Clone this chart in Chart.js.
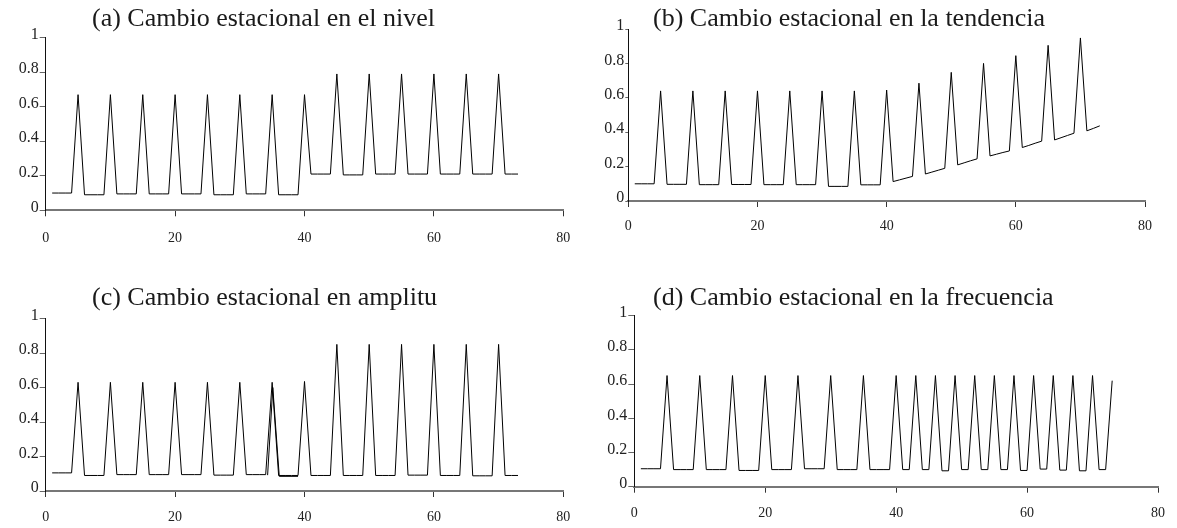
<!DOCTYPE html>
<html>
<head>
<meta charset="utf-8">
<script src="https://cdn.jsdelivr.net/npm/chart.js@4/dist/chart.umd.min.js"></script>
<style>
  body { margin: 0; background: #fff; }
  #page { position: relative; width: 1177px; height: 528px; overflow: hidden; }
  .panel { position: absolute; }
  .titulo {
    position: absolute;
    font-family: "Liberation Serif", serif;
    font-size: 26px;
    line-height: 26px;
    color: #1a1a1a;
    white-space: nowrap;
  }
</style>
</head>
<body>
<div id="page">
  <canvas id="nivel" class="panel" width="590" height="255" style="left:0;top:0"></canvas>
  <canvas id="tendencia" class="panel" width="587" height="255" style="left:590px;top:0"></canvas>
  <canvas id="amplitud" class="panel" width="590" height="268" style="left:0;top:260px"></canvas>
  <canvas id="frecuencia" class="panel" width="587" height="268" style="left:590px;top:260px"></canvas>
  <div class="titulo" style="left:92px;top:5px">(a) Cambio estacional en el nivel</div>
  <div class="titulo" style="left:653px;top:5px">(b) Cambio estacional en la tendencia</div>
  <div class="titulo" style="left:92px;top:284px">(c) Cambio estacional en amplitu</div>
  <div class="titulo" style="left:653px;top:284px">(d) Cambio estacional en la frecuencia</div>
</div>
<script>
// eje temporal comun a las cuatro series
const tiempo = [
  1, 2, 3, 4, 5, 6, 7, 8, 9, 10, 11, 12, 13, 14, 15, 16, 17, 18, 19, 20,
  21, 22, 23, 24, 25, 26, 27, 28, 29, 30, 31, 32, 33, 34, 35, 36, 37, 38, 39, 40,
  41, 42, 43, 44, 45, 46, 47, 48, 49, 50, 51, 52, 53, 54, 55, 56, 57, 58, 59, 60,
  61, 62, 63, 64, 65, 66, 67, 68, 69, 70, 71, 72, 73
];

// (a) cambio en el nivel
const serieNivel = [
  0.10, 0.10, 0.10, 0.10, 0.67, 0.09, 0.09, 0.09, 0.09, 0.67,
  0.095, 0.095, 0.095, 0.095, 0.67, 0.095, 0.095, 0.095, 0.095, 0.67,
  0.095, 0.095, 0.095, 0.095, 0.67, 0.09, 0.09, 0.09, 0.09, 0.67,
  0.095, 0.095, 0.095, 0.095, 0.67, 0.09, 0.09, 0.09, 0.09, 0.67,
  0.21, 0.21, 0.21, 0.21, 0.79, 0.205, 0.205, 0.205, 0.205, 0.79,
  0.21, 0.21, 0.21, 0.21, 0.79, 0.21, 0.21, 0.21, 0.21, 0.79,
  0.21, 0.21, 0.21, 0.21, 0.79, 0.21, 0.21, 0.21, 0.21, 0.79,
  0.21, 0.21, 0.21
];

// (b) cambio en la tendencia
const serieTendencia = [
  0.10, 0.10, 0.10, 0.10, 0.64, 0.097, 0.097, 0.097, 0.097, 0.64,
  0.095, 0.095, 0.095, 0.095, 0.64, 0.096, 0.096, 0.096, 0.096, 0.64,
  0.095, 0.095, 0.095, 0.095, 0.64, 0.095, 0.095, 0.095, 0.095, 0.64,
  0.085, 0.085, 0.085, 0.085, 0.64, 0.094, 0.094, 0.094, 0.094, 0.645,
  0.113, 0.123, 0.133, 0.143, 0.685, 0.157, 0.168, 0.179, 0.19, 0.748,
  0.21, 0.222, 0.234, 0.245, 0.80, 0.262, 0.272, 0.282, 0.291, 0.845,
  0.311, 0.323, 0.336, 0.348, 0.905, 0.355, 0.368, 0.381, 0.394, 0.948,
  0.408, 0.422, 0.437
];

// (c) cambio en amplitud
const serieAmplitud = [
  0.105, 0.105, 0.105, 0.105, 0.63, 0.09, 0.09, 0.09, 0.09, 0.63,
  0.095, 0.095, 0.095, 0.095, 0.63, 0.095, 0.095, 0.095, 0.095, 0.63,
  0.095, 0.095, 0.095, 0.095, 0.63, 0.092, 0.092, 0.092, 0.092, 0.63,
  0.095, 0.095, 0.095, 0.095, 0.63, 0.09, 0.09, 0.09, 0.09, 0.635,
  0.09, 0.09, 0.09, 0.09, 0.85, 0.09, 0.09, 0.09, 0.09, 0.85,
  0.09, 0.09, 0.09, 0.09, 0.85, 0.092, 0.092, 0.092, 0.092, 0.85,
  0.09, 0.09, 0.09, 0.09, 0.85, 0.088, 0.088, 0.088, 0.088, 0.85,
  0.09, 0.09, 0.09
];
// trazo repetido que se ve engrosado cerca de t = 35
const tiempoSolape = [34.3, 35.1, 36.1, 39];
const serieSolape = [0.092, 0.60, 0.085, 0.085];

// (d) cambio en la frecuencia
const serieFrecuencia = [
  0.105, 0.105, 0.105, 0.105, 0.65, 0.10, 0.10, 0.10, 0.10, 0.65,
  0.10, 0.10, 0.10, 0.10, 0.65, 0.095, 0.095, 0.095, 0.095, 0.65,
  0.10, 0.10, 0.10, 0.10, 0.65, 0.105, 0.105, 0.105, 0.105, 0.65,
  0.10, 0.10, 0.10, 0.10, 0.65, 0.10, 0.10, 0.10, 0.10, 0.65,
  0.10, 0.10, 0.65, 0.10, 0.10, 0.65, 0.093, 0.093, 0.65, 0.10,
  0.10, 0.65, 0.10, 0.10, 0.65, 0.10, 0.10, 0.65, 0.095, 0.095,
  0.65, 0.103, 0.103, 0.65, 0.097, 0.097, 0.65, 0.093, 0.093, 0.65,
  0.10, 0.10, 0.62
];

const ticksX = { min: 0, max: 80, step: 20 };
const ticksY = { min: 0, max: 1, step: 0.2 };

const puntos = (xs, ys) => xs.map((x, i) => ({ x: x, y: ys[i] }));

const serieLinea = (label, data) => ({
  label: label,
  data: data,
  borderColor: "#000",
  borderWidth: 1,
  pointRadius: 0,
  tension: 0,
  fill: false,
});

// geometria de cada panel: ancho del eje y, alto del eje x y margenes
const crearPanel = (id, datasets, geo) => {
  const options = {
    animation: false,
    responsive: false,
    devicePixelRatio: 1,
    layout: {
      padding: { top: geo.top, right: geo.right, left: 0, bottom: 0 },
    },
    plugins: {
      legend: { display: false },
      tooltip: { enabled: false },
      title: { display: false },
    },
    scales: {
      x: {
        type: "linear",
        min: ticksX.min,
        max: ticksX.max,
        afterFit: (scale) => { scale.height = geo.xHeight; },
        grid: {
          drawOnChartArea: false,
          drawTicks: true,
          tickLength: 6,
          tickColor: "#333",
          tickWidth: 1,
        },
        border: { display: true, color: "#777", width: 2 },
        ticks: {
          stepSize: ticksX.step,
          padding: geo.xPad,
          color: "#222",
          maxRotation: 0,
          font: { family: "Liberation Serif", size: 14 },
        },
      },
      y: {
        min: ticksY.min,
        max: ticksY.max,
        afterFit: (scale) => { scale.width = geo.yWidth; },
        grid: {
          drawOnChartArea: false,
          drawTicks: true,
          tickLength: geo.yTick,
          tickColor: "#666",
          tickWidth: 1,
        },
        border: { display: true, color: "#111", width: 1 },
        ticks: {
          stepSize: ticksY.step,
          padding: 1,
          color: "#222",
          labelOffset: -3,
          font: { family: "Liberation Serif", size: 16 },
          callback: (value) => String(Number(value.toFixed(1))),
        },
      },
    },
  };
  return new Chart(document.getElementById(id), {
    type: "line",
    data: { datasets: datasets },
    options: options,
  });
};

crearPanel("nivel",
  [serieLinea("nivel", puntos(tiempo, serieNivel))],
  { top: 37.7, right: 26.7, yWidth: 45.7, xHeight: 44.7, xPad: 14, yTick: 6 });

crearPanel("tendencia",
  [serieLinea("tendencia", puntos(tiempo, serieTendencia))],
  { top: 29, right: 32, yWidth: 38.3, xHeight: 54, xPad: 11, yTick: 3 });

crearPanel("amplitud",
  [
    serieLinea("amplitud", puntos(tiempo, serieAmplitud)),
    serieLinea("solape", puntos(tiempoSolape, serieSolape)),
  ],
  { top: 58.5, right: 26.7, yWidth: 45.7, xHeight: 37, xPad: 12, yTick: 6 });

crearPanel("frecuencia",
  [serieLinea("frecuencia", puntos(tiempo, serieFrecuencia))],
  { top: 55.7, right: 13.3, yWidth: 44.3, xHeight: 41.3, xPad: 12, yTick: 6 });
</script>
</body>
</html>
